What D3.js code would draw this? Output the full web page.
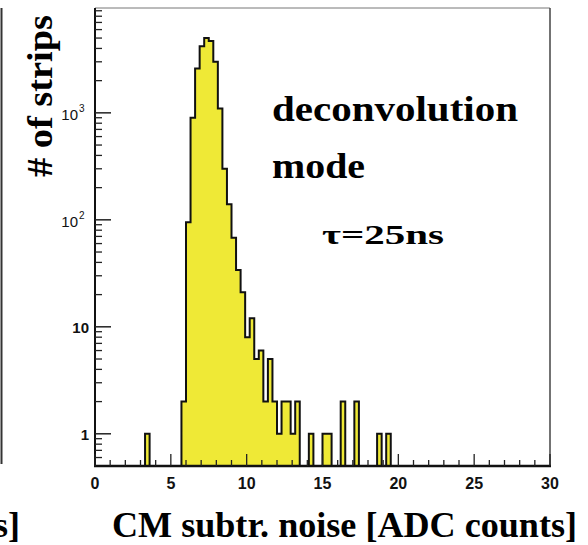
<!DOCTYPE html>
<html><head><meta charset="utf-8">
<script src="https://cdn.jsdelivr.net/npm/d3@7"></script>
<style>body{margin:0;background:#fff}</style>
</head><body>
<svg id="c" width="588" height="545"></svg>
<script>
// ---- data ----
const binWidth = 0.3;          // ADC counts per bin, bins start at 0
const counts = [
  0,0,0,0,0,0,0,0,0,0,      // 0.0 - 3.0
  0,1,0,0,0,0,0,0,0,2,      // 3.0 - 6.0
  95,900,2600,4200,5000,4700,3000,1100,300,140, // 6.0 - 9.0
  68,34,21,8,12,5,6,2,5,2,  // 9.0 - 12.0
  1,2,2,1,2,0,0,1,0,0,      // 12.0 - 15.0
  1,1,0,0,2,0,0,2,0,0,      // 15.0 - 18.0
  0,0,1,0,1,0               // 18.0 - 19.8
];
const xDomain = [0, 30];
const yDomain = [0.5, 9550];
const xTickMajor = [0, 5, 10, 15, 20, 25, 30];
const xTickMinor = d3.range(0, 31, 1);
const yTickMajor = [1, 10, 100, 1000];
const yTickLabels = [["1",""],["10",""],["10","2"],["10","3"]];
const xTitle = "CM subtr. noise [ADC counts]";
const yTitle = "# of strips";
const note = ["deconvolution", "mode", "\u03c4=25ns"];

// ---- layout ----
const L = 95, R = 550, T = 8, B = 466;
const svg = d3.select("#c");
const x = d3.scaleLinear().domain(xDomain).range([L, R]);
const y = d3.scaleLog().domain(yDomain).range([B, T]);
const serif = "Liberation Serif, Times New Roman, serif";
const sans = "Liberation Sans, Arial, sans-serif";

// neighbouring panel fragments (cut off at the left edge as in the reference)
svg.append("line").attr("x1",1.5).attr("x2",1.5).attr("y1",8).attr("y2",464)
  .attr("stroke","#333").attr("stroke-width",2);
svg.append("text").attr("x",20).attr("y",537).attr("text-anchor","end")
  .attr("font-family",serif).attr("font-weight","bold")
  .attr("font-size",36).text("s]");

// histogram
svg.append("clipPath").attr("id","fr").append("rect")
  .attr("x",L).attr("y",T).attr("width",R-L).attr("height",B-T);
const pts = counts.map((c,i)=>[i*binWidth, c]);
pts.push([counts.length*binWidth, counts[counts.length-1]]);
const area = d3.area()
  .x(d=>x(d[0]))
  .y0(B)
  .y1(d=> d[1] > 0 ? y(d[1]) : B)
  .curve(d3.curveStepAfter);
svg.append("path").attr("d", area(pts)).attr("clip-path","url(#fr)")
  .attr("fill","#efe936").attr("stroke","#111").attr("stroke-width",2)
  .attr("stroke-linejoin","miter");

// frame
svg.append("line").attr("x1",L).attr("x2",R).attr("y1",T).attr("y2",T).attr("stroke","#777").attr("stroke-width",1);
svg.append("line").attr("x1",R).attr("x2",R).attr("y1",T).attr("y2",B).attr("stroke","#444").attr("stroke-width",1.5);
svg.append("line").attr("x1",L).attr("x2",L).attr("y1",T).attr("y2",B).attr("stroke","#111").attr("stroke-width",2);
svg.append("line").attr("x1",L-1).attr("x2",R+1).attr("y1",B).attr("y2",B).attr("stroke","#111").attr("stroke-width",2.5);

// x ticks (inward)
const gx = svg.append("g");
xTickMinor.forEach(v=>{
  const major = xTickMajor.includes(v);
  gx.append("line").attr("x1",x(v)).attr("x2",x(v)).attr("y1",B).attr("y2",B-(major?12:6))
    .attr("stroke","#222").attr("stroke-width",1.3);
});
xTickMajor.forEach(v=>{
  gx.append("text").attr("x",x(v)).attr("y",489).attr("text-anchor","middle")
    .attr("font-family",sans).attr("font-weight","bold")
    .attr("font-size",16).attr("fill","#111").text(v);
});

// y ticks (inward)
const gy = svg.append("g");
const yMinor = [];
for (let e=-1; e<=3; e++) for (let k=2;k<=9;k++){ const v=k*Math.pow(10,e); if (v>yDomain[0] && v<yDomain[1]) yMinor.push(v); }
yMinor.forEach(v=>{
  gy.append("line").attr("x1",L).attr("x2",L+7).attr("y1",y(v)).attr("y2",y(v)).attr("stroke","#222").attr("stroke-width",1.3);
});
yTickMajor.forEach((v,i)=>{
  gy.append("line").attr("x1",L).attr("x2",L+16).attr("y1",y(v)).attr("y2",y(v)).attr("stroke","#222").attr("stroke-width",1.5);
  const [base, sup] = yTickLabels[i];
  if (sup) {
    gy.append("text").attr("x",78).attr("y",y(v)+7).attr("text-anchor","end")
      .attr("font-family",sans).attr("font-size",15).attr("fill","#111").text(base);
    gy.append("text").attr("x",79).attr("y",y(v)-1)
      .attr("font-family",sans).attr("font-size",10).attr("fill","#111").text(sup);
  } else {
    gy.append("text").attr("x",89).attr("y",y(v)+6).attr("text-anchor","end")
      .attr("font-family",sans).attr("font-weight","bold").attr("font-size",15).attr("fill","#111").text(base);
  }
});

// titles
svg.append("text").attr("x",112).attr("y",537).attr("font-family",serif).attr("font-weight","bold")
  .attr("font-size",36).attr("textLength",465).attr("lengthAdjust","spacingAndGlyphs").text(xTitle);
svg.append("text").attr("transform","translate(52,96) rotate(-90)").attr("text-anchor","middle")
  .attr("font-family",serif).attr("font-weight","bold").attr("font-size",35)
  .attr("textLength",162).attr("lengthAdjust","spacingAndGlyphs").text(yTitle);

// annotation
svg.append("text").attr("x",272).attr("y",121).attr("font-family",serif).attr("font-weight","bold")
  .attr("font-size",36).attr("textLength",246).attr("lengthAdjust","spacingAndGlyphs").text(note[0]);
svg.append("text").attr("x",272).attr("y",178).attr("font-family",serif).attr("font-weight","bold")
  .attr("font-size",36).attr("textLength",93).attr("lengthAdjust","spacingAndGlyphs").text(note[1]);
svg.append("text").attr("x",322).attr("y",244).attr("font-family",serif).attr("font-weight","bold")
  .attr("font-size",28).attr("textLength",122).attr("lengthAdjust","spacingAndGlyphs").text(note[2]);
</script>
</body></html>
